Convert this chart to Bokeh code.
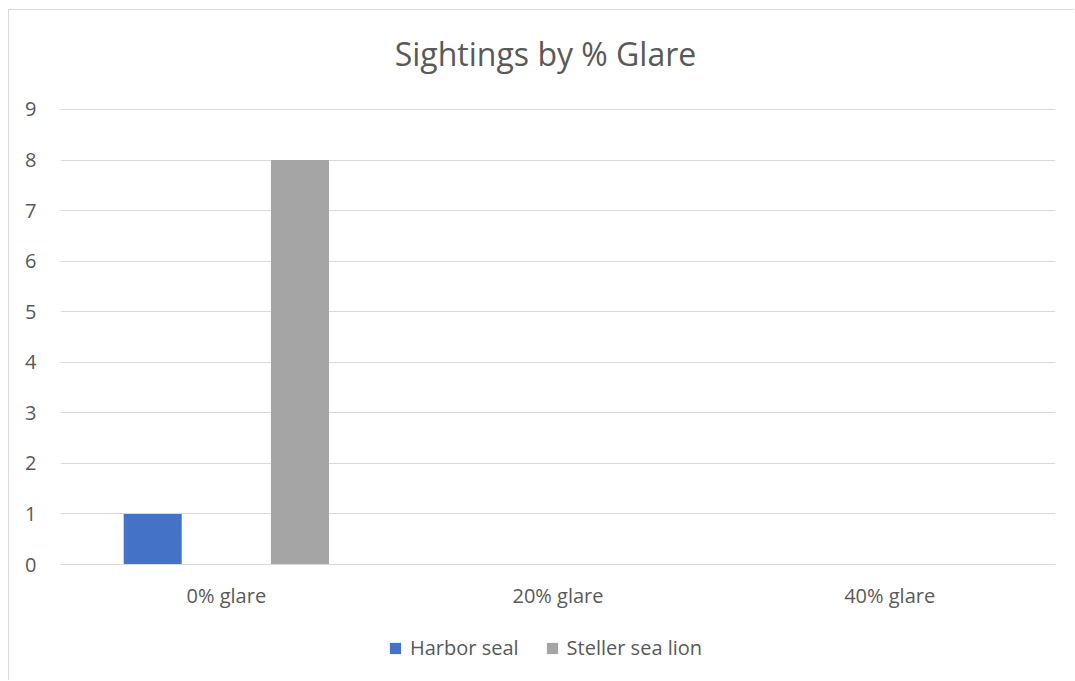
from bokeh.plotting import figure
from bokeh.models import FixedTicker, Legend, LegendItem, ColumnDataSource, Range1d, Label
from bokeh.embed import file_html
from bokeh.resources import INLINE

title_text = "Sightings by % Glare"
categories = ["0% glare", "20% glare", "40% glare"]
series_names = ["Harbor seal", "Steller sea lion"]
harbor_seal = [1, 0, 0]
steller_sea_lion = [8, 0, 0]
y_ticks = [0, 1, 2, 3, 4, 5, 6, 7, 8, 9]

colors = ["#4472C4", "#A5A5A5"]
offsets = [-0.222, 0.222]
bar_w = 0.175
FONT = "Open Sans"
TXT = "#595959"

p = figure(width=1066, height=671, output_backend="svg", toolbar_location=None,
           x_range=Range1d(0, len(categories)), y_range=Range1d(-2.314, 10.958),
           min_border_left=51, min_border_right=20, min_border_top=0, min_border_bottom=0)

renderers = []
for name, vals, col, off in zip(series_names, [harbor_seal, steller_sea_lion], colors, offsets):
    src = ColumnDataSource(dict(x=[i + 0.5 + off for i in range(len(categories))], top=vals))
    r = p.vbar(x="x", top="top", width=bar_w, bottom=0, source=src, fill_color=col, line_color=None)
    renderers.append(r)

# chart title drawn as a label centred over the whole chart area
p.add_layout(Label(x=1.4623, y=10.107, text=title_text, text_align="center", text_baseline="middle",
                   text_font=FONT, text_font_size="32px", text_color=TXT))

p.outline_line_color = None
p.background_fill_color = "white"
p.border_fill_color = "white"
p.styles = {"margin-left": "8px", "margin-top": "9px",
            "border-left": "1px solid #D9D9D9", "border-top": "1px solid #D9D9D9"}

p.xgrid.grid_line_color = None
p.ygrid.grid_line_color = "#D9D9D9"
p.ygrid.grid_line_width = 1
p.ygrid.ticker = FixedTicker(ticks=y_ticks)

p.yaxis.ticker = FixedTicker(ticks=y_ticks)
p.yaxis.axis_line_color = None
p.yaxis.major_tick_line_color = None
p.yaxis.minor_tick_line_color = None
p.yaxis.major_label_text_font = FONT
p.yaxis.major_label_text_font_size = "20px"
p.yaxis.major_label_text_color = TXT
p.yaxis.major_label_standoff = 18

p.xaxis.fixed_location = 0
p.xaxis.ticker = FixedTicker(ticks=[i + 0.5 for i in range(len(categories))])
p.xaxis.major_label_overrides = {i + 0.5: c for i, c in enumerate(categories)}
p.xaxis.axis_line_color = "#D9D9D9"
p.xaxis.major_tick_line_color = None
p.xaxis.minor_tick_line_color = None
p.xaxis.major_label_text_font = FONT
p.xaxis.major_label_text_font_size = "20px"
p.xaxis.major_label_text_color = TXT
p.xaxis.major_label_standoff = 11

legend = Legend(items=[LegendItem(label=n, renderers=[r]) for n, r in zip(series_names, renderers)],
                orientation="horizontal", location=(328, 20),
                label_text_font=FONT, label_text_font_size="20px", label_text_color=TXT,
                glyph_width=14, glyph_height=14, spacing=26, label_standoff=8,
                border_line_color=None, background_fill_alpha=0, padding=0, margin=0)
p.add_layout(legend, "center")

open("out.html", "w").write(file_html(p, INLINE))
